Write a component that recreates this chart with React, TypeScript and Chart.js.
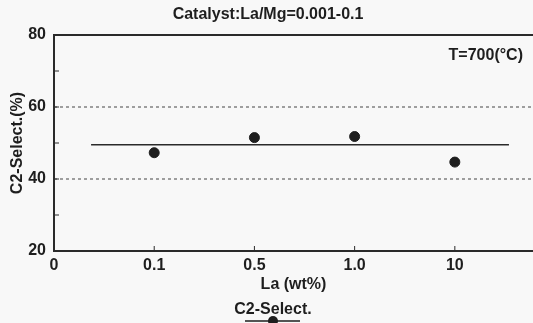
import React, { useEffect, useRef } from "react";
import { Chart, registerables } from "chart.js";

Chart.register(...registerables);

const categories = ["0", "0.1", "0.5", "1.0", "10"];
const pointX = [1, 2, 3, 4];
const selectivity = [47.3, 51.5, 51.8, 44.7];
const fitX = [0.37, 4.54];
const fitY = [49.5, 49.5];
const refLinesY = [40, 60];
const yTickLabels = [20, 40, 60, 80];
const yMinorTicks = [30, 40, 50, 60, 70];
const xRange = [0, 4.78];
const yRange = [20, 80];

const INK = "#1e1e1e";
const FONT = "'Liberation Sans', Arial, sans-serif";

const decorPlugin = {
  id: "decor",
  afterDatasetsDraw(chart: any) {
    const { ctx, chartArea, scales, width } = chart;
    const xs = scales.x;
    const ys = scales.y;
    ctx.save();
    // frame (right side runs off the picture)
    ctx.strokeStyle = "#2a2a2a";
    ctx.lineWidth = 2;
    ctx.beginPath();
    ctx.moveTo(width + 2, chartArea.top);
    ctx.lineTo(chartArea.left, chartArea.top);
    ctx.lineTo(chartArea.left, chartArea.bottom);
    ctx.lineTo(width + 2, chartArea.bottom);
    ctx.stroke();
    // inward ticks
    ctx.lineWidth = 1;
    yMinorTicks.forEach((v) => {
      const y = ys.getPixelForValue(v);
      ctx.beginPath();
      ctx.moveTo(chartArea.left, y);
      ctx.lineTo(chartArea.left + 5, y);
      ctx.stroke();
    });
    pointX.forEach((v) => {
      const x = xs.getPixelForValue(v);
      ctx.beginPath();
      ctx.moveTo(x, chartArea.bottom);
      ctx.lineTo(x, chartArea.bottom - 5);
      ctx.stroke();
    });
    // texts
    ctx.fillStyle = INK;
    ctx.font = `bold 16px ${FONT}`;
    ctx.textBaseline = "middle";
    ctx.textAlign = "center";
    ctx.fillText("Catalyst:La/Mg=0.001-0.1", 268, 15);
    ctx.textAlign = "right";
    ctx.fillText("T=700(°C)", 523, 56);
    // legend
    ctx.textAlign = "center";
    ctx.fillText("C2-Select.", 273, 310);
    ctx.strokeStyle = INK;
    ctx.lineWidth = 1.5;
    ctx.beginPath();
    ctx.moveTo(245, 321);
    ctx.lineTo(300, 321);
    ctx.stroke();
    ctx.beginPath();
    ctx.arc(273, 321, 5, 0, Math.PI * 2);
    ctx.fill();
    ctx.restore();
  },
};

export default function App() {
  const ref = useRef<HTMLCanvasElement>(null);
  useEffect(() => {
    if (!ref.current) return;
    const chart = new Chart(ref.current, {
      type: "scatter",
      data: {
        datasets: [
          {
            label: "C2-Select.",
            data: pointX.map((x, i) => ({ x, y: selectivity[i] })),
            backgroundColor: INK,
            borderColor: INK,
            pointRadius: 5,
            showLine: false,
          },
          {
            label: "fit",
            data: fitX.map((x, i) => ({ x, y: fitY[i] })),
            showLine: true,
            borderColor: "#2a2a2a",
            borderWidth: 1.5,
            pointRadius: 0,
          },
          ...refLinesY.map((y) => ({
            label: "ref" + y,
            data: xRange.map((x) => ({ x, y })),
            showLine: true,
            borderColor: "#444",
            borderWidth: 1,
            borderDash: [3, 3],
            pointRadius: 0,
          })),
        ],
      },
      options: {
        animation: false,
        responsive: false,
        layout: { padding: { top: 35, right: 0, left: 0, bottom: 0 } },
        plugins: { legend: { display: false }, tooltip: { enabled: false }, title: { display: false } },
        scales: {
          x: {
            type: "linear",
            min: xRange[0],
            max: xRange[1],
            afterFit: (s: any) => {
              s.height = 72;
            },
            afterBuildTicks: (s: any) => {
              s.ticks = categories.map((_, i) => ({ value: i }));
            },
            grid: { display: false, drawTicks: false },
            border: { display: false },
            ticks: {
              padding: 5,
              color: INK,
              font: { family: FONT, size: 16, weight: "bold" },
              callback: (v: any) => categories[Math.round(Number(v))] ?? "",
            },
            title: {
              display: true,
              text: "La (wt%)",
              color: INK,
              font: { family: FONT, size: 16, weight: "bold" },
              padding: { top: 0, bottom: 29 },
            },
          },
          y: {
            min: yRange[0],
            max: yRange[1],
            afterFit: (s: any) => {
              s.width = 54;
            },
            afterBuildTicks: (s: any) => {
              s.ticks = yTickLabels.map((v) => ({ value: v }));
            },
            grid: { display: false, drawTicks: false },
            border: { display: false },
            ticks: {
              padding: 8,
              color: INK,
              font: { family: FONT, size: 16, weight: "bold" },
            },
            title: {
              display: true,
              text: "C2-Select.(%)",
              color: INK,
              font: { family: FONT, size: 16, weight: "bold" },
              padding: { top: 8, bottom: 0 },
            },
          },
        },
      },
      plugins: [decorPlugin],
    });
    return () => chart.destroy();
  }, []);
  return (
    <div style={{ position: "absolute", left: 0, top: 0, width: 533, height: 323, background: "#f8f8f8", overflow: "hidden" }}>
      <canvas ref={ref} width={539} height={323} style={{ display: "block" }} />
    </div>
  );
}
